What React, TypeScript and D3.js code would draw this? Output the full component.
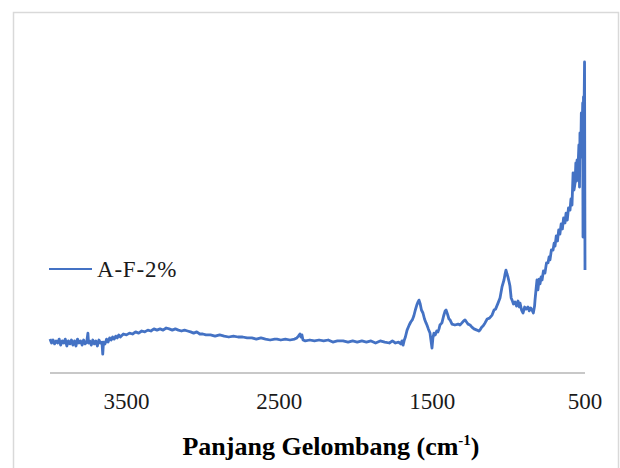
import React from "react";
import * as d3 from "d3";

const seriesName = "A-F-2%";
const xTicks = [3500, 2500, 1500, 500];
const xTitle = "Panjang Gelombang (cm";

const wavenumber = [
  4000, 3990, 3980, 3970, 3960, 3950, 3940, 3930, 3920, 3910, 3900, 3890, 3880, 3870, 3860, 3850,
  3840, 3830, 3820, 3810, 3800, 3790, 3780, 3770, 3760, 3752, 3748, 3740, 3730, 3720, 3710, 3700,
  3690, 3680, 3670, 3660, 3655, 3650, 3640, 3630, 3620, 3610, 3600, 3590, 3580, 3570, 3560, 3550,
  3540, 3520, 3500, 3480, 3460, 3440, 3420, 3400, 3380, 3360, 3340, 3320, 3300, 3280, 3260, 3240,
  3220, 3200, 3180, 3160, 3140, 3120, 3100, 3080, 3060, 3040, 3020, 3000, 2980, 2950, 2920, 2890,
  2860, 2830, 2800, 2770, 2740, 2710, 2680, 2650, 2620, 2590, 2560, 2530, 2515, 2490, 2460, 2430,
  2400, 2385, 2375, 2365, 2358, 2352, 2345, 2330, 2300, 2270, 2240, 2210, 2180, 2150, 2120, 2083,
  2050, 2020, 1990, 1960, 1930, 1900, 1870, 1840, 1810, 1780, 1760, 1740, 1720, 1705, 1697, 1690,
  1682, 1675, 1664, 1650, 1640, 1630, 1620, 1610, 1600, 1592, 1586, 1578, 1570, 1560, 1550, 1540,
  1534, 1525, 1514, 1508, 1501, 1495, 1488, 1480, 1470, 1462, 1455, 1449, 1436, 1425, 1415, 1409,
  1400, 1390, 1383, 1370, 1351, 1330, 1318, 1305, 1295, 1285, 1275, 1265, 1252, 1240, 1226, 1207,
  1195, 1187, 1175, 1167, 1154, 1140, 1125, 1108, 1095, 1085, 1069, 1056, 1043, 1030, 1024, 1017,
  1010, 1004, 995, 991, 983, 977, 968, 958, 948, 938, 930, 925, 915, 905, 895, 885,
  873, 865, 855, 847, 838, 830, 827, 820, 814, 808, 800, 794, 787, 781, 772, 762,
  752, 742, 735, 729, 720, 709, 702, 696, 688, 680, 672, 664, 656, 648, 640, 631,
  624, 616, 608, 598, 592, 585, 578, 572, 565, 560, 555, 552, 546, 540, 536, 533,
  528, 524, 520, 515, 513, 510, 506, 503, 500,
];

const intensity = [
  11.3, 10.0, 11.0, 9.7, 10.7, 10.0, 11.3, 9.3, 10.7, 10.0, 11.3, 9.0, 10.7, 9.7, 11.0, 9.3,
  10.7, 9.0, 11.3, 10.0, 10.7, 9.3, 11.0, 9.7, 10.3, 13.3, 10.0, 10.7, 9.3, 11.0, 9.7, 10.7,
  9.0, 11.0, 10.0, 10.3, 6.3, 10.3, 9.7, 11.3, 10.3, 11.7, 11.0, 12.0, 11.3, 12.3, 11.7, 12.7,
  12.0, 13.0, 12.7, 13.3, 13.0, 13.7, 13.3, 14.0, 13.7, 14.3, 14.0, 14.7, 14.3, 14.7, 14.3, 15.0,
  14.7, 14.3, 14.7, 14.3, 14.0, 14.3, 14.0, 13.7, 13.3, 13.7, 13.0, 13.0, 12.7, 12.7, 12.3, 12.7,
  12.3, 12.0, 12.3, 12.0, 12.0, 11.7, 11.7, 11.3, 11.7, 11.3, 11.0, 11.3, 11.3, 11.0, 11.3, 11.0,
  11.3, 11.7, 12.3, 13.0, 12.0, 12.7, 11.0, 10.7, 11.0, 10.7, 11.0, 10.7, 11.0, 10.3, 10.7, 10.7,
  10.3, 10.7, 10.3, 10.7, 10.3, 10.7, 10.0, 10.7, 10.3, 10.0, 10.7, 10.0, 10.3, 9.7, 10.7, 9.3,
  11.0, 12.0, 14.3, 16.0, 17.0, 17.7, 19.0, 21.0, 22.7, 23.7, 24.3, 23.0, 21.0, 20.0, 18.0, 16.7,
  16.0, 14.7, 13.3, 11.0, 8.3, 11.7, 13.3, 12.7, 14.0, 13.7, 14.7, 16.0, 16.7, 19.0, 20.7, 21.0,
  19.7, 18.0, 17.7, 16.3, 16.0, 16.3, 16.0, 16.7, 17.3, 17.7, 17.0, 16.3, 16.0, 15.3, 14.7, 14.3,
  14.0, 14.3, 15.3, 15.7, 16.7, 18.0, 18.3, 19.3, 21.0, 21.3, 23.3, 25.0, 28.7, 31.0, 32.7, 34.3,
  33.0, 32.0, 30.0, 29.0, 25.0, 24.3, 23.0, 23.7, 22.3, 24.0, 22.0, 23.3, 21.0, 20.0, 22.0, 21.3,
  22.0, 20.7, 21.7, 21.0, 20.0, 22.3, 24.3, 28.0, 31.0, 27.7, 31.3, 29.7, 32.0, 31.0, 34.0, 33.3,
  36.7, 36.7, 38.7, 37.7, 41.0, 41.0, 43.3, 42.3, 45.7, 44.0, 47.7, 46.3, 49.7, 48.0, 51.7, 50.0,
  53.3, 51.0, 55.0, 54.3, 58.0, 56.0, 66.7, 61.0, 63.3, 70.0, 64.0, 71.0, 68.0, 76.0, 62.0, 80.0,
  72.0, 86.7, 78.0, 90.0, 45.3, 92.0, 88.0, 103.7, 34.3,
];

export default function App() {
  const W = 620;
  const H = 468;
  const x = d3.scaleLinear().domain([4000, 500]).range([50, 585]);
  const y = d3.scaleLinear().domain([0, 110]).range([373, 43]);
  const data = wavenumber.map((w, i) => [w, intensity[i]] as [number, number]);
  const line = d3
    .line<[number, number]>()
    .x((d) => x(d[0]))
    .y((d) => y(d[1]));
  const [r0, r1] = x.range();
  const serif = "'Liberation Serif', serif";
  return (
    <svg
      width={W}
      height={H}
      style={{ position: "absolute", left: 0, top: 0, display: "block", background: "#fff" }}
    >
      <rect x={13.5} y={12.5} width={605} height={470} fill="#fff" stroke="#d9d9d9" strokeWidth={1.5} />
      <line x1={r0} x2={r1} y1={y(0)} y2={y(0)} stroke="#c8c8c8" strokeWidth={1.8} />
      <path d={line(data) || ""} fill="none" stroke="#4472C4" strokeWidth={2.8} strokeLinejoin="round" />
      {xTicks.map((t) => (
        <text
          key={t}
          x={Math.min(x(t), r1)}
          y={409}
          textAnchor="middle"
          style={{ fontFamily: serif }}
          fontSize={23}
          fill="#1a1a1a"
        >
          {t}
        </text>
      ))}
      <text x={331} y={455} textAnchor="middle" style={{ fontFamily: serif }} fontSize={26} fontWeight="bold" fill="#000">
        {xTitle}
        <tspan dy={-10} fontSize={15}>-1</tspan>
        <tspan dy={10}>)</tspan>
      </text>
      <line x1={49} x2={92} y1={269} y2={269} stroke="#4472C4" strokeWidth={2.2} />
      <text x={97} y={277} style={{ fontFamily: serif }} fontSize={23} letterSpacing={0.8} fill="#1a1a1a">
        {seriesName}
      </text>
    </svg>
  );
}
